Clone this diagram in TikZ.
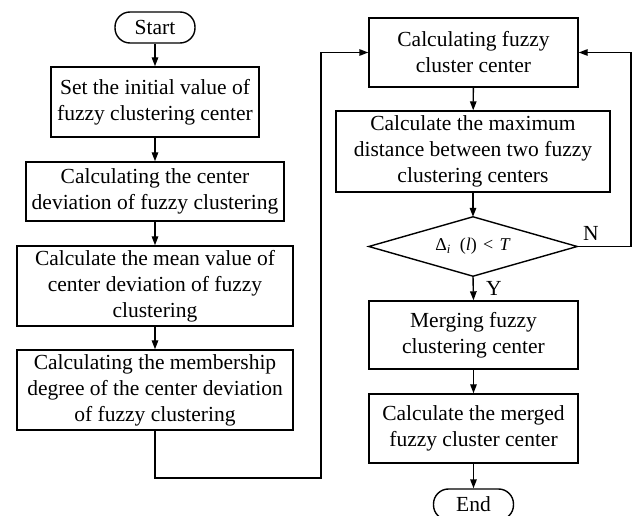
\documentclass[tikz,border=0pt]{standalone}
\usepackage{fontspec}
\setmainfont{Liberation Serif}
\usetikzlibrary{arrows.meta}
\tikzset{
  lw/.style={line width=1.4pt},
  box/.style={draw, lw, align=center, inner sep=2pt, font=\fontsize{21.5}{26}\selectfont},
  term/.style={draw, lw, rounded corners=15pt, inner sep=0pt, minimum width=80pt, minimum height=31pt, font=\fontsize{21.5}{26}\selectfont},
  arr/.style={lw, -{Triangle[length=9pt,width=6.5pt]}},
  lbl/.style={inner sep=0pt, font=\fontsize{21.5}{26}\selectfont}
}
\begin{document}
\begin{tikzpicture}[x=1pt,y=-1pt]
\useasboundingbox (0,0) rectangle (633,516);
% left column
\node[term] (start) at (155,27.5) {Start};
\node[box, minimum width=208pt, minimum height=70pt] (b1) at (155,102) {Set the initial value of\\fuzzy clustering center};
\node[box, minimum width=258pt, minimum height=59pt] (b2) at (155,191.5) {Calculating the center\\deviation of fuzzy clustering};
\node[box, minimum width=276pt, minimum height=80pt] (b3) at (155,286) {Calculate the mean value of\\center deviation of fuzzy\\clustering};
\node[box, minimum width=276pt, minimum height=80pt] (b4) at (155,390) {Calculating the membership\\degree of the center deviation\\of fuzzy clustering};
% right column
\node[box, minimum width=209pt, minimum height=69pt] (r1) at (473.5,52.5) {Calculating fuzzy\\cluster center};
\node[box, minimum width=274pt, minimum height=81pt] (r2) at (473,151.5) {Calculate the maximum\\distance between two fuzzy\\clustering centers};
\node[inner sep=0pt, minimum width=208pt, minimum height=59pt, font=\fontsize{18}{20}\selectfont] (dec) at (473,246.5) {Δ\textsubscript{\textit{i}}\hspace{0.5em}(\textit{l})\hspace{0.35em}<\hspace{0.35em}\textit{T}};
\draw[lw] (dec.north) -- (dec.east) -- (dec.south) -- (dec.west) -- cycle;
\node[box, minimum width=209pt, minimum height=68pt] (r3) at (473.5,335) {Merging fuzzy\\clustering center};
\node[box, minimum width=209pt, minimum height=69pt] (r4) at (473.5,428.5) {Calculate the merged\\fuzzy cluster center};
\node[term] (end) at (473.5,504.5) {End};
% labels
\node[lbl] (nlab) at (591,233) {N};
\node[lbl] (ylab) at (494,288) {Y};
% coordinates for loops
\coordinate (c1) at (155,478);
\coordinate (c2) at (321,478);
\coordinate (c3) at (321,52.5);
\coordinate (c4) at (631,246.5);
\coordinate (c5) at (631,52.5);
% arrows
\draw[arr] (start) -- (b1);
\draw[arr] (b1) -- (b2);
\draw[arr] (b2) -- (b3);
\draw[arr] (b3) -- (b4);
\draw[arr] (b4.south) -- (c1) -- (c2) -- (c3) -- (r1.west);
\draw[arr] (r1) -- (r2);
\draw[arr] (r2.south) -- (dec.north);
\draw[arr] (dec.south) -- (r3.north);
\draw[arr] (r3) -- (r4);
\draw[arr] (r4) -- (end);
\draw[arr] (dec.east) -- (c4) -- (c5) -- (r1.east);
\end{tikzpicture}
\end{document}
